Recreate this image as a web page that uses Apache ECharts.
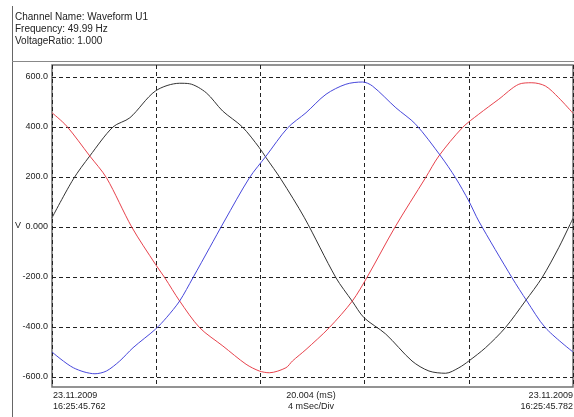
<!DOCTYPE html>
<html>
<head>
<meta charset="utf-8">
<script src="https://cdn.jsdelivr.net/npm/echarts@6/dist/echarts.min.js"></script>
<style>
  html, body { margin: 0; padding: 0; background: #fff; }
  #chart { width: 574px; height: 417px; }
</style>
</head>
<body>
<div id="chart"></div>
<script>
// header lines
var headerLines = ['Channel Name: Waveform U1', 'Frequency: 49.99 Hz', 'VoltageRatio: 1.000'];

// x axis: 5 divisions of 4 ms
var xMin = 0, xMax = 20, xStep = 4;
// y axis ticks
var yMin = -600, yMax = 600, yStep = 200;

// bottom captions
var startStamp = ['23.11.2009', '16:25:45.762'];
var spanLabel = ['20.004 (mS)', '4 mSec/Div'];
var endStamp = ['23.11.2009', '16:25:45.782'];

// waveform samples (ms, V)
var blackT = [0, 0.82, 1.45, 2.34, 2.99, 3.97, 4.90, 5.28, 5.92, 6.55, 7.31, 7.96, 8.22, 8.79, 9.69, 10.90, 11.52, 11.98, 12.81, 13.82, 14.47, 15.11, 15.62, 16.0, 16.64, 17.40, 18.17, 18.81, 19.45, 19.89, 20.0];
var blackV = [37, 192, 284, 400, 437, 544, 575, 573, 537, 464, 400, 317, 277, 191, 37, -203, -296, -363, -428, -536, -576, -585, -563, -536, -483, -403, -296, -203, -83, 11, 35];

var redT = [0, 0.56, 1.45, 2.09, 3.06, 3.97, 4.33, 4.90, 5.67, 6.56, 7.45, 7.96, 8.34, 8.98, 9.23, 9.75, 10.64, 11.53, 12.10, 13.17, 14.34, 14.85, 15.75, 16.38, 17.15, 17.92, 18.42, 18.94, 19.45, 20.0];
var redV = [457, 404, 284, 197, 0, -149, -203, -296, -403, -476, -549, -576, -583, -563, -536, -490, -403, -296, -200, 0, 197, 284, 397, 451, 511, 571, 577, 564, 517, 455];

var blueT = [0, 0.82, 1.65, 2.09, 2.60, 3.11, 3.97, 4.39, 4.90, 5.41, 6.05, 6.62, 7.58, 8.22, 9.05, 9.75, 10.52, 11.28, 11.92, 12.30, 13.20, 13.96, 14.92, 15.49, 16.0, 16.38, 17.66, 18.23, 18.94, 20.0];
var blueV = [-500, -563, -587, -576, -536, -483, -409, -363, -296, -203, -83, 24, 197, 284, 397, 457, 531, 571, 580, 564, 477, 411, 284, 197, 104, 24, -203, -296, -403, -500];

function pairs(t, v) {
    return t.map(function (x, i) { return [x, v[i]]; });
}

var font = 'Liberation Sans, Arial, sans-serif';
var dash = { color: '#222', width: 1, type: [4, 3] };

function lineSeries(t, v, color) {
    return {
        type: 'line',
        xAxisIndex: 0,
        yAxisIndex: 0,
        data: pairs(t, v),
        smooth: 0.3,
        showSymbol: false,
        clip: false,
        lineStyle: { color: color, width: 1 },
        emphasis: { disabled: true }
    };
}

function text(x, y, str, align, size) {
    return {
        type: 'text', x: x, y: y,
        style: { text: str, font: size + 'px ' + font, fill: '#222', textAlign: align, textVerticalAlign: 'middle' }
    };
}

var graphics = [
    // outer frame
    { type: 'line', shape: { x1: 12.5, y1: 6, x2: 12.5, y2: 417 }, style: { stroke: '#666', lineWidth: 1 } },
    { type: 'line', shape: { x1: 12, y1: 61.5, x2: 574, y2: 61.5 }, style: { stroke: '#888', lineWidth: 1 } },
    text(253 - 20, 226, '', 'left', 9),
    text(15, 226, 'V', 'left', 9)
];
headerLines.forEach(function (s, i) { graphics.push(text(15, 17 + i * 12.3, s, 'left', 10)); });
startStamp.forEach(function (s, i) { graphics.push(text(53, 396 + i * 11, s, 'left', 9)); });
spanLabel.forEach(function (s, i) { graphics.push(text(311, 396 + i * 11, s, 'center', 9)); });
endStamp.forEach(function (s, i) { graphics.push(text(573, 396 + i * 11, s, 'right', 9)); });

var chart = echarts.init(document.getElementById('chart'), null, { renderer: 'canvas' });
chart.setOption({
    animation: false,
    backgroundColor: '#fff',
    grid: [
        // data grid (-600..600)
        { left: 52, right: 1, top: 77, bottom: 40 },
        // frame grid, carries the vertical divisions and the border
        { left: 52, right: 1, top: 65, bottom: 30, show: true, borderColor: '#707070', borderWidth: 1.5, backgroundColor: 'transparent' }
    ],
    xAxis: [
        { gridIndex: 0, type: 'value', min: xMin, max: xMax, interval: xStep, show: false },
        {
            gridIndex: 1, type: 'value', min: xMin, max: xMax, interval: xStep,
            axisLine: { show: false }, axisTick: { show: false }, axisLabel: { show: false },
            splitLine: { show: true, lineStyle: dash }
        }
    ],
    yAxis: [
        {
            gridIndex: 0, type: 'value', min: yMin, max: yMax, interval: yStep,
            axisLine: { show: false }, axisTick: { show: false },
            axisLabel: {
                margin: 4, fontSize: 9, fontFamily: font, color: '#222',
                formatter: function (v) { return v === 0 ? '0.000' : v.toFixed(1); }
            },
            splitLine: { show: true, lineStyle: dash }
        },
        { gridIndex: 1, type: 'value', min: -1, max: 1, show: false }
    ],
    series: [
        lineSeries(blackT, blackV, '#333333'),
        lineSeries(redT, redV, '#e8424c'),
        lineSeries(blueT, blueV, '#4848dc')
    ],
    graphic: graphics
});
</script>
</body>
</html>
